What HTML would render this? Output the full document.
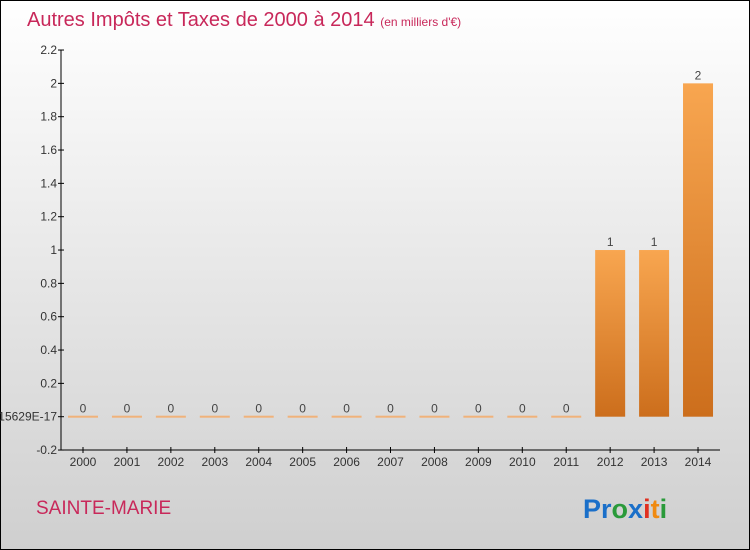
<!DOCTYPE html>
<html><head><meta charset="utf-8"><style>
body{margin:0}
svg{display:block;font-family:"Liberation Sans",sans-serif}
</style></head><body>
<svg width="750" height="550" viewBox="0 0 750 550">
<defs>
<linearGradient id="bg" x1="0" y1="0" x2="0" y2="1"><stop offset="0" stop-color="#ffffff"/><stop offset="1" stop-color="#cfcfcf"/></linearGradient>
<linearGradient id="bar" x1="0" y1="0" x2="0" y2="1"><stop offset="0" stop-color="#f8a650"/><stop offset="1" stop-color="#cc6e1c"/></linearGradient>
</defs>
<rect x="0.5" y="0.5" width="749" height="549" fill="url(#bg)" stroke="#000"/>
<text x="27" y="26" font-size="20" fill="#c8285a">Autres Impôts et Taxes de 2000 à 2014 <tspan font-size="12">(en milliers d'€)</tspan></text>
<text x="36" y="514" font-size="19" fill="#c8285a">SAINTE-MARIE</text>
<text x="583" y="518" font-size="27" font-weight="bold"><tspan fill="#1a6fc9">Pr</tspan><tspan fill="#2a9a3a">o</tspan><tspan fill="#1a6fc9">x</tspan><tspan fill="#e03020">i</tspan><tspan fill="#f08a10">t</tspan><tspan fill="#2a9a3a">i</tspan></text>
<g id="axes"></g>
<g id="bars"></g>
<script>
const categories=["2000","2001","2002","2003","2004","2005","2006","2007","2008","2009","2010","2011","2012","2013","2014"];
const values=[0,0,0,0,0,0,0,0,0,0,0,0,1,1,2];
const yTicks=[2.2,2,1.8,1.6,1.4,1.2,1,0.8,0.6,0.4,0.2,0,-0.2];
const yTickLabels=["2.2","2","1.8","1.6","1.4","1.2","1","0.8","0.6","0.4","0.2","5.5511151231257815629E-17","-0.2"];
const NS="http://www.w3.org/2000/svg";
const y=v=>416.7-(v)*166.67;
const x=i=>83+i*43.93;
const ax=document.getElementById('axes'),bg=document.getElementById('bars');
function mk(t,a,p){const e=document.createElementNS(NS,t);for(const k in a)e.setAttribute(k,a[k]);p.appendChild(e);return e;}
let l=mk('line',{x1:61,y1:50,x2:61,y2:450,stroke:'#000'},ax);


l=mk('line',{x1:61,y1:450,x2:720,y2:450,stroke:'#000'},ax);


yTicks.forEach((v,i)=>{
 mk('line',{x1:58,y1:y(v),x2:64,y2:y(v),stroke:'#000'},ax);
 const t=mk('text',{x:57,y:y(v)+4,'font-size':12,'text-anchor':'end',fill:'#333'},ax);
 t.textContent=yTickLabels[i];
 
 
});
categories.forEach((c,i)=>{
 mk('line',{x1:x(i),y1:447,x2:x(i),y2:453,stroke:'#000'},ax);
 const t=mk('text',{x:x(i),y:466,'font-size':12,'text-anchor':'middle',fill:'#333'},ax);
 t.textContent=c;
 
 
 const v=values[i];
 let r;
 if(v===0){r=mk('rect',{x:x(i)-15,y:y(0)-1,width:30,height:2,fill:'#f0b27a'},bg);}
 else{r=mk('rect',{x:x(i)-15,y:y(v),width:30,height:y(0)-y(v),fill:'url(#bar)'},bg);}
 
 
 const lb=mk('text',{x:x(i),y:y(v)-4,'font-size':12,'text-anchor':'middle',fill:'#444'},bg);
 lb.textContent=String(v);
 
 
});
</script>
</svg>
</body></html>
